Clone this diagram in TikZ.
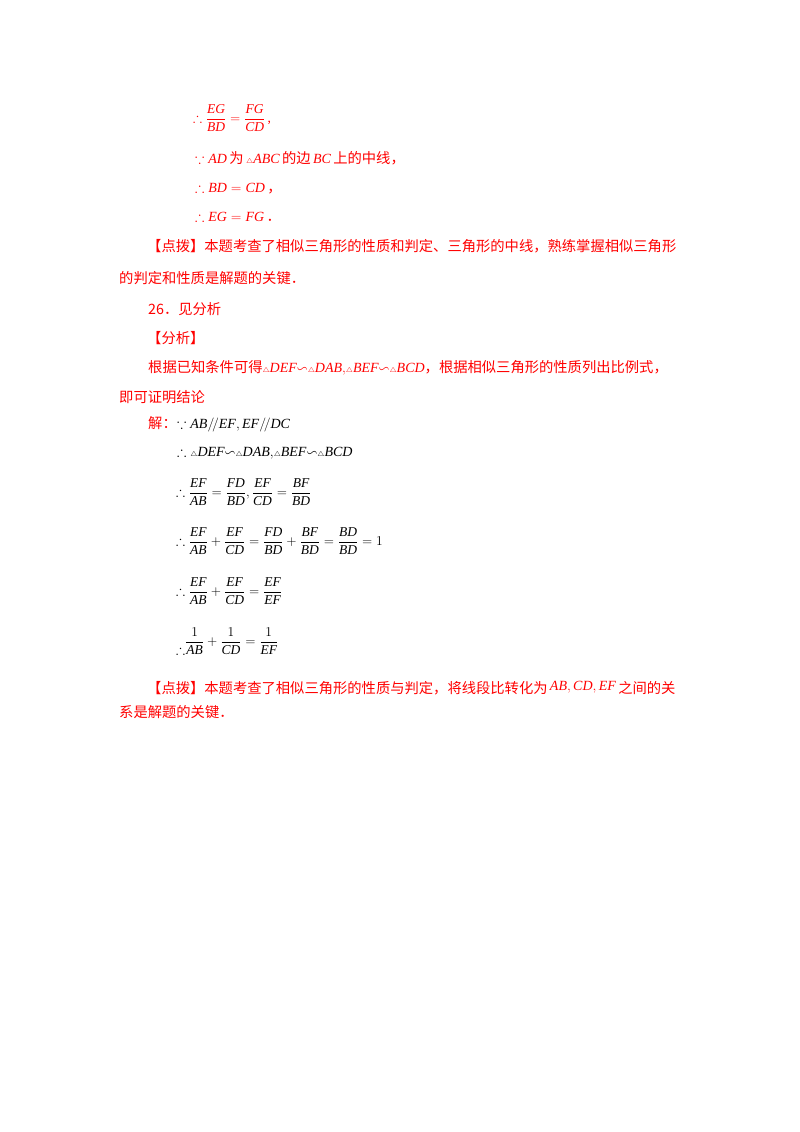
\RequirePackage{fix-cm}
\documentclass[tikz,border=0pt]{standalone}
\usepackage{amsmath,amssymb,graphicx}
\usepackage{fontspec}
\setmainfont{Liberation Serif}
\newfontfamily\cjk{Noto Sans CJK SC}
\newcommand{\Vi}[1]{\text{\rmfamily\itshape #1}}
\begin{document}
\begin{tikzpicture}[x=1pt,y=-1pt,
  t/.style={anchor=base west,inner sep=0pt,font=\cjk\fontsize{14.3}{16}\selectfont,text=red},
  m/.style={anchor=base west,inner sep=0pt,font=\fontsize{14}{16}\selectfont},
  fr/.style={anchor=west,inner sep=0pt,font=\fontsize{13.5}{16}\selectfont}]
\useasboundingbox[fill=white] (0,0) rectangle (800,1132);
\newcommand{\tri}{{\scriptscriptstyle\triangle}}
\newcommand{\tm}[1]{{\fontsize{14}{16}\selectfont$#1$}}
\node[fr,text=red] (l1) at (193,118) {$\therefore\dfrac{\Vi{EG}}{\Vi{BD}}=\dfrac{\Vi{FG}}{\Vi{CD}}$\,,};
\node[t] (l2) at (195,163) {\tm{\because \Vi{AD}}\,为\,\tm{\tri \Vi{ABC}}\,的边\,\tm{\Vi{BC}}\,上的中线，};
\node[t] (l3) at (195,192) {\tm{\therefore \Vi{BD}=\Vi{CD}}\,，};
\node[t] (l4) at (195,221) {\tm{\therefore \Vi{EG}=\Vi{FG}}\,．};
\node[t] (l5) at (147,251) {【点拨】本题考查了相似三角形的性质和判定、三角形的中线，熟练掌握相似三角形};
\node[t] (l6) at (119,283) {的判定和性质是解题的关键．};
\node[t] (l7) at (148,314) {26．见分析};
\node[t] (l8) at (147,343) {【分析】};
\node[t] (l9) at (148,372) {根据已知条件可得\tm{\tri\Vi{DEF}{\backsim}\tri\Vi{DAB},\!\tri\Vi{BEF}{\backsim}\tri\Vi{BCD}}，根据相似三角形的性质列出比例式，};
\node[t] (l10) at (119,402) {即可证明结论};
\node[t] (l11) at (148,428) {解：};
\node[m] (l12) at (177,428) {$\because \Vi{AB}/\!/\Vi{EF},\Vi{EF}/\!/\Vi{DC}$};
\node[m] (l13) at (177,456) {$\therefore\tri\Vi{DEF}{\backsim}\tri\Vi{DAB},\!\tri\Vi{BEF}{\backsim}\tri\Vi{BCD}$};
\node[fr] (l14) at (176,492) {$\therefore\dfrac{\Vi{EF}}{\Vi{AB}}=\dfrac{\Vi{FD}}{\Vi{BD}},\dfrac{\Vi{EF}}{\Vi{CD}}=\dfrac{\Vi{BF}}{\Vi{BD}}$};
\node[fr] (l15) at (176,541) {$\therefore\dfrac{\Vi{EF}}{\Vi{AB}}+\dfrac{\Vi{EF}}{\Vi{CD}}=\dfrac{\Vi{FD}}{\Vi{BD}}+\dfrac{\Vi{BF}}{\Vi{BD}}=\dfrac{\Vi{BD}}{\Vi{BD}}=1$};
\node[fr] (l16) at (176,591) {$\therefore\dfrac{\Vi{EF}}{\Vi{AB}}+\dfrac{\Vi{EF}}{\Vi{CD}}=\dfrac{\Vi{EF}}{\Vi{EF}}$};
\node[fr] (l17) at (176,641) {$\raisebox{-9pt}{$\therefore$}\dfrac{1}{\Vi{AB}}+\dfrac{1}{\Vi{CD}}=\dfrac{1}{\Vi{EF}}$};
\node[t] (l18) at (147,693) {【点拨】本题考查了相似三角形的性质与判定，将线段比转化为\,\raisebox{3pt}{\tm{\Vi{AB},\Vi{CD},\Vi{EF}}}\,之间的关};
\node[t] (l19) at (119,717) {系是解题的关键．};
\end{tikzpicture}
\end{document}
